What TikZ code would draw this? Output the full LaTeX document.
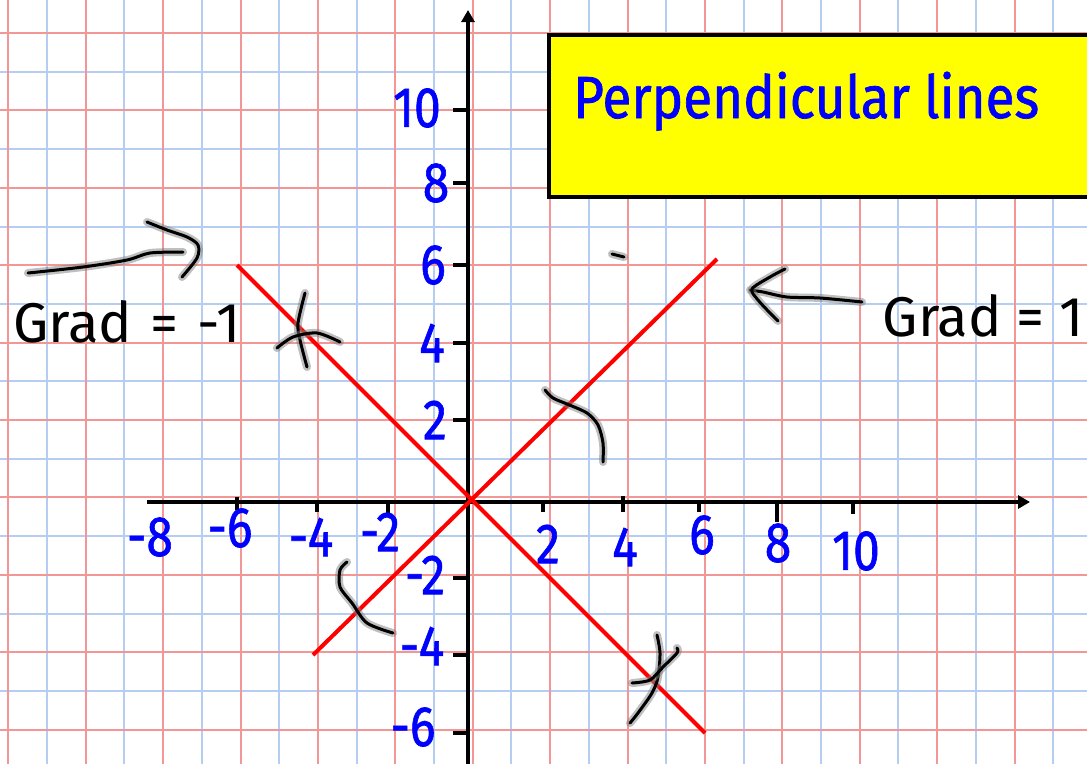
\documentclass[tikz,border=0pt]{standalone}
\usepackage{fontspec}
\setmainfont{Fira Sans}
\newfontfamily\numfont{Fira Sans}[FakeBold=1.2]
\usepackage{graphicx}
\usetikzlibrary{arrows.meta}
\definecolor{gridred}{RGB}{242,150,150}
\definecolor{gridblue}{RGB}{180,205,240}
\definecolor{labelblue}{RGB}{0,0,255}
\definecolor{titleyellow}{RGB}{255,255,0}
\newcommand{\numlab}[1]{\scalebox{1}[1.18]{#1}}
\begin{document}
\begin{tikzpicture}[x=1pt,y=-1pt,
  gridr/.style={draw=gridred,line width=2pt},
  gridb/.style={draw=gridblue,line width=2pt},
  axisline/.style={draw=black,line width=4.5pt,-{Triangle[length=12pt,width=13pt]}},
  tickmark/.style={draw=black,line width=4pt},
  numlbl/.style={text=labelblue,font=\numfont\fontsize{48}{48}\selectfont,inner sep=0pt},
  redline/.style={draw=red,line width=4pt},
  hand/.style={text=black,font=\fontsize{56}{56}\selectfont,inner sep=0pt},
  ink/.style={draw=black,line width=3pt,line cap=round,line join=round,
    preaction={draw=black!50,opacity=0.5,line width=8pt,line cap=round,line join=round}},
  titlebox/.style={draw=black,fill=titleyellow,line width=4pt}
]
\useasboundingbox (0,0) rectangle (1087,764);
\clip (0,0) rectangle (1087,764);
\fill[white] (0,0) rectangle (1087,764);
% grid
\foreach \k in {0,...,13} \draw[gridb] ({47+77.4*\k},0) -- ++(0,764);
\foreach \k in {0,...,8} \draw[gridb] (0,{71.7+77.4*\k}) -- ++(1087,0);
\foreach \k in {0,...,13} \draw[gridr] ({8.3+77.4*\k},0) -- ++(0,764);
\foreach \k in {0,...,9} \draw[gridr] (0,{33+77.4*\k}) -- ++(1087,0);
% title
\node[titlebox,minimum width=560pt,minimum height=162pt,anchor=north west] (titlebox) at (547,33) {};
\node[text=labelblue,font=\numfont\fontsize{53}{53}\selectfont,inner sep=0pt,anchor=base west] (title) at (573,118) {\scalebox{1}[1.12]{Perpendicular lines}};
% axes
\coordinate (ybot) at (468,764);
\coordinate (ytop) at (468,10);
\coordinate (xleft) at (147,502);
\coordinate (xright) at (1030,502);
\draw[axisline] (ybot) -- (ytop);
\draw[axisline] (xleft) -- (xright);
% y ticks
\foreach \y in {110,183,265,343,420,578,655,733} \draw[tickmark] (453,\y) -- (468,\y);
% x ticks
\draw[tickmark] (237,497) -- (237,510);
\draw[tickmark] (317,500) -- (317,512);
\draw[tickmark] (388,502) -- (388,514);
\draw[tickmark] (543,500) -- (543,512);
\draw[tickmark] (623,496) -- (623,512);
\draw[tickmark] (699,502) -- (699,512);
\draw[tickmark] (777,502) -- (777,522);
\draw[tickmark] (853,502) -- (853,514);
% y labels
\node[numlbl] (y10) at (417,108) {\numlab{10}};
\node[numlbl] (y8) at (436,183) {\numlab{8}};
\node[numlbl] (y6) at (433,265) {\numlab{6}};
\node[numlbl] (y4) at (432,343) {\numlab{4}};
\node[numlbl] (y2) at (435,420) {\numlab{2}};
\node[numlbl] (ym2) at (425,575) {\numlab{-2}};
\node[numlbl] (ym4) at (422,646) {\numlab{-4}};
\node[numlbl] (ym6) at (413,727) {\numlab{-6}};
% x labels
\node[numlbl] (xm8) at (150,537) {\numlab{-8}};
\node[numlbl] (xm6) at (230,528) {\numlab{-6}};
\node[numlbl] (xm4) at (311,537) {\numlab{-4}};
\node[numlbl] (xm2) at (380,532) {\numlab{-2}};
\node[numlbl] (x2) at (548,544) {\numlab{2}};
\node[numlbl] (x4) at (625,547) {\numlab{4}};
\node[numlbl] (x6) at (702,535) {\numlab{6}};
\node[numlbl] (x8) at (778,543) {\numlab{8}};
\node[numlbl] (x10) at (856,551) {\numlab{10}};
% red lines
\coordinate (a1) at (237,265);
\coordinate (a2) at (705,733);
\coordinate (b1) at (313,655);
\coordinate (b2) at (717,259);
\draw[redline] (a1) -- (a2);
\draw[redline] (b1) -- (b2);
% handwriting
\node[hand,anchor=base west] (gradm1) at (13,342) {Grad\,\,=\,\,-1};
\node[hand,anchor=base east] (grad1) at (1084,336) {Grad = 1};
% arrows drawn by hand
\draw[ink] plot[smooth] coordinates {(28,273) (83,267) (127,260) (150,253) (183,252)};
\draw[ink] plot[smooth] coordinates {(147,222) (167,230) (187,237) (198,245) (197,258) (182,277)};
\draw[ink] plot[smooth] coordinates {(862,302) (820,298) (787,297) (763,292) (750,290)};
\draw[ink] plot[smooth] coordinates {(785,269) (770,277) (752,289) (758,300) (770,313) (778,321)};
% perpendicular marks
\draw[ink] plot[smooth] coordinates {(305,293) (298,323) (300,340) (307,367)};
\draw[ink] plot[smooth] coordinates {(277,348) (293,337) (317,333) (340,342)};
\draw[ink] plot[smooth] coordinates {(657,635) (660,653) (658,677) (652,693) (638,713) (630,723)};
\draw[ink] plot[smooth] coordinates {(632,683) (650,680) (663,667) (677,653) (677,648)};
\draw[ink] plot[smooth] coordinates {(545,390) (553,398) (567,404) (587,413) (598,425) (603,443) (603,462)};
\draw[ink] plot[smooth] coordinates {(347,562) (340,570) (340,587) (352,603) (367,623) (393,633)};
\draw[ink] (612,254) -- (624,257);
\end{tikzpicture}
\end{document}
